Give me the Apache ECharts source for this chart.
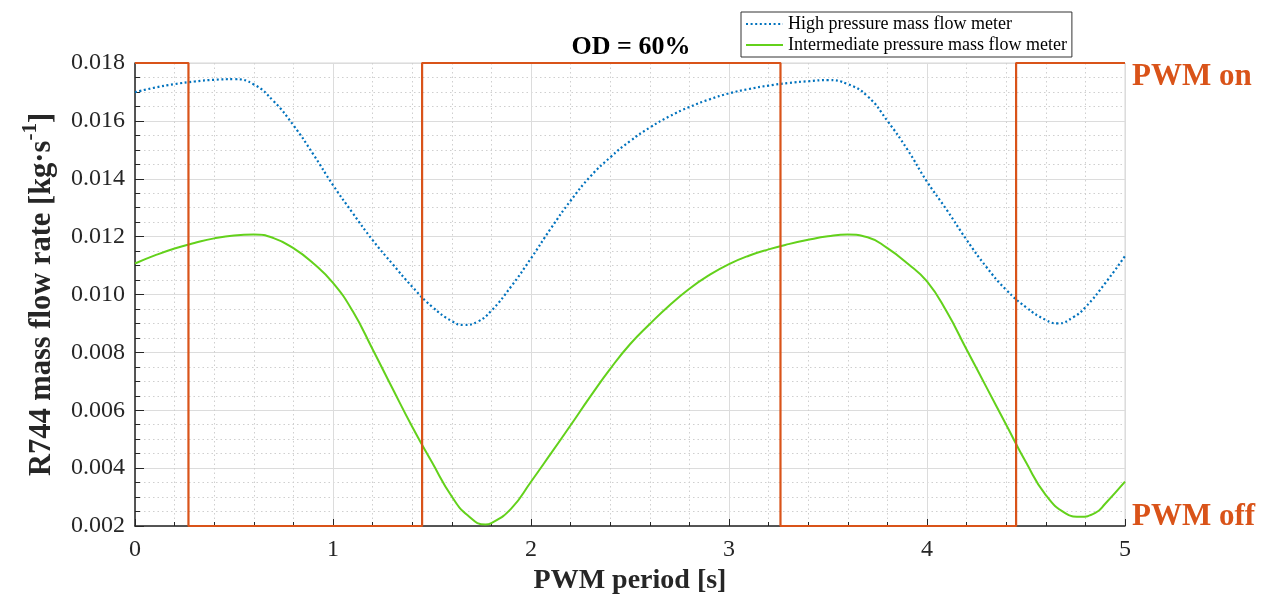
<!DOCTYPE html>
<html>
<head>
<meta charset="utf-8">
<script src="https://cdn.jsdelivr.net/npm/echarts@6/dist/echarts.min.js"></script>
<style>html,body{margin:0;padding:0;background:#fff;}#c{width:1262px;height:600px;}</style>
</head>
<body>
<div id="c"></div>
<script>
// ---- data ----
const hpTime = [0,0.1,0.2,0.3,0.4,0.5,0.6,0.7,0.8,0.9,1.0,1.1,1.2,1.3,1.4,1.5,1.6,1.66,1.73,1.8,1.9,2.0,2.1,2.2,2.3,2.4,2.5,2.6,2.7,2.8,2.9,3.0,3.1,3.2,3.3,3.4,3.5,3.6,3.7,3.8,3.9,4.0,4.1,4.2,4.3,4.4,4.5,4.6,4.66,4.74,4.8,4.9,5.0];
const hpFlow = [0.01699,0.01715,0.01727,0.01736,0.01742,0.01744,0.01726,0.01668,0.01585,0.01485,0.01378,0.01281,0.01188,0.01106,0.01027,0.00958,0.00908,0.00895,0.00906,0.00944,0.01028,0.01125,0.01228,0.01324,0.01408,0.01474,0.01530,0.01577,0.01616,0.01648,0.01674,0.01695,0.01710,0.01722,0.01731,0.01737,0.01741,0.01727,0.01685,0.01600,0.01502,0.01390,0.01292,0.01189,0.01095,0.01016,0.00956,0.00912,0.00900,0.00922,0.00956,0.01039,0.01133];
const ipTime = [0,0.1,0.2,0.3,0.4,0.5,0.6,0.7,0.8,0.9,1.0,1.1,1.2,1.3,1.4,1.5,1.6,1.68,1.77,1.8,1.9,2.0,2.1,2.2,2.3,2.4,2.5,2.6,2.7,2.8,2.9,3.0,3.1,3.2,3.3,3.4,3.5,3.6,3.7,3.8,3.9,4.0,4.1,4.2,4.3,4.4,4.5,4.6,4.7,4.77,4.85,4.9,5.0];
const ipFlow = [0.01107,0.01135,0.01159,0.01178,0.01194,0.01204,0.01207,0.01195,0.01160,0.01108,0.01040,0.00942,0.00811,0.00676,0.00543,0.00420,0.00302,0.00237,0.00205,0.00210,0.00260,0.00353,0.00450,0.00548,0.00648,0.00743,0.00828,0.00898,0.00963,0.01020,0.01067,0.01105,0.01134,0.01156,0.01174,0.01189,0.01201,0.01207,0.01198,0.01160,0.01108,0.01045,0.00940,0.00810,0.00680,0.00550,0.00420,0.00307,0.00244,0.00232,0.00245,0.00277,0.00353];
const pwmTime = [0,0.27,0.27,1.45,1.45,3.26,3.26,4.45,4.45,5];
const pwmLevel = [0.018,0.018,0.002,0.002,0.018,0.018,0.002,0.002,0.018,0.018];
const seriesNames = ['High pressure mass flow meter','Intermediate pressure mass flow meter'];
const titleText = 'OD = 60%';
const pwmLabels = ['PWM on','PWM off'];
const xTicks = {min:0, max:5, interval:1};
const yTicks = {min:0.002, max:0.018, interval:0.002};

const zip = (a,b) => a.map((v,i)=>[v,b[i]]);
const serif = 'Liberation Serif';
const orange = '#D95319';

const chart = echarts.init(document.getElementById('c'), null, {renderer:'canvas'});
chart.setOption({
  animation:false,
  backgroundColor:'#fff',
  title:{text:titleText,left:'center',top:29,textStyle:{fontFamily:serif,fontSize:26,fontWeight:'bold',color:'#000'}},
  legend:{
    data:seriesNames, orient:'vertical', left:741, top:12,
    padding:[3,5,3,4], itemGap:3, itemWidth:37, itemHeight:16,
    borderColor:'#333', borderWidth:1, backgroundColor:'#fff',
    itemStyle:{opacity:0},
    textStyle:{fontFamily:serif,fontSize:18,color:'#000'}
  },
  grid:{left:135,right:137,top:63,bottom:74,show:true,borderColor:'#d6d6d6',borderWidth:1,backgroundColor:'transparent'},
  xAxis:{
    type:'value', min:xTicks.min, max:xTicks.max, interval:xTicks.interval,
    name:'PWM period [s]', nameLocation:'middle', nameGap:37,
    nameTextStyle:{fontFamily:serif,fontSize:28,fontWeight:'bold',color:'#262626'},
    axisLine:{onZero:false,lineStyle:{color:'#262626',width:1.5}},
    axisTick:{inside:true,length:7,lineStyle:{color:'#262626'}},
    minorTick:{show:true,splitNumber:5,length:4,lineStyle:{color:'#262626'}},
    axisLabel:{fontFamily:serif,fontSize:24,color:'#262626',margin:12},
    splitLine:{show:true,lineStyle:{color:'#dcdcdc',width:1}},
    minorSplitLine:{show:true,lineStyle:{color:'#cfcfcf',width:1,type:[1.5,3]}}
  },
  yAxis:{
    type:'value', min:yTicks.min, max:yTicks.max, interval:yTicks.interval,
    name:'{b|R744 mass flow rate [kg·s}{s|-1}{b|]}', nameLocation:'middle', nameGap:77, nameRotate:90,
    nameTextStyle:{rich:{
      b:{fontFamily:serif,fontSize:30.5,fontWeight:'bold',color:'#262626',lineHeight:38,verticalAlign:'bottom'},
      s:{fontFamily:serif,fontSize:21,fontWeight:'bold',color:'#262626',lineHeight:38,verticalAlign:'top'}
    }},
    axisLine:{onZero:false,lineStyle:{color:'#262626',width:1.5}},
    axisTick:{inside:true,length:9,lineStyle:{color:'#262626'}},
    minorTick:{show:true,splitNumber:4,length:5,lineStyle:{color:'#262626'}},
    axisLabel:{fontFamily:serif,fontSize:24,color:'#262626',margin:10,formatter:v=>v.toFixed(3)},
    splitLine:{show:true,lineStyle:{color:'#dcdcdc',width:1}},
    minorSplitLine:{show:true,lineStyle:{color:'#cfcfcf',width:1,type:[1.5,3]}}
  },
  series:[
    {name:'PWM',type:'line',data:zip(pwmTime,pwmLevel),showSymbol:false,symbol:'none',z:5,
     lineStyle:{color:orange,width:2.2},itemStyle:{color:orange},
     markPoint:{symbol:'circle',symbolSize:0,
       data:[
        {coord:[pwmTime[pwmTime.length-1],pwmLevel[pwmLevel.length-1]],name:pwmLabels[0],
         label:{show:true,formatter:pwmLabels[0],position:'right',offset:[2,14],fontFamily:serif,fontSize:31,fontWeight:'bold',color:orange}},
        {coord:[pwmTime[pwmTime.length-1],yTicks.min],name:pwmLabels[1],
         label:{show:true,formatter:pwmLabels[1],position:'right',offset:[2,-9],fontFamily:serif,fontSize:31,fontWeight:'bold',color:orange}}
       ]}
    },
    {name:seriesNames[0],type:'line',data:zip(hpTime,hpFlow),smooth:0.5,showSymbol:false,symbol:'none',z:4,
     lineStyle:{color:'#0072BD',width:2.2,type:[2,2.6]},itemStyle:{color:'#0072BD'}},
    {name:seriesNames[1],type:'line',data:zip(ipTime,ipFlow),smooth:0.5,showSymbol:false,symbol:'none',z:4,
     lineStyle:{color:'#63D11B',width:2},itemStyle:{color:'#63D11B'}}
  ]
});
</script>
</body>
</html>
